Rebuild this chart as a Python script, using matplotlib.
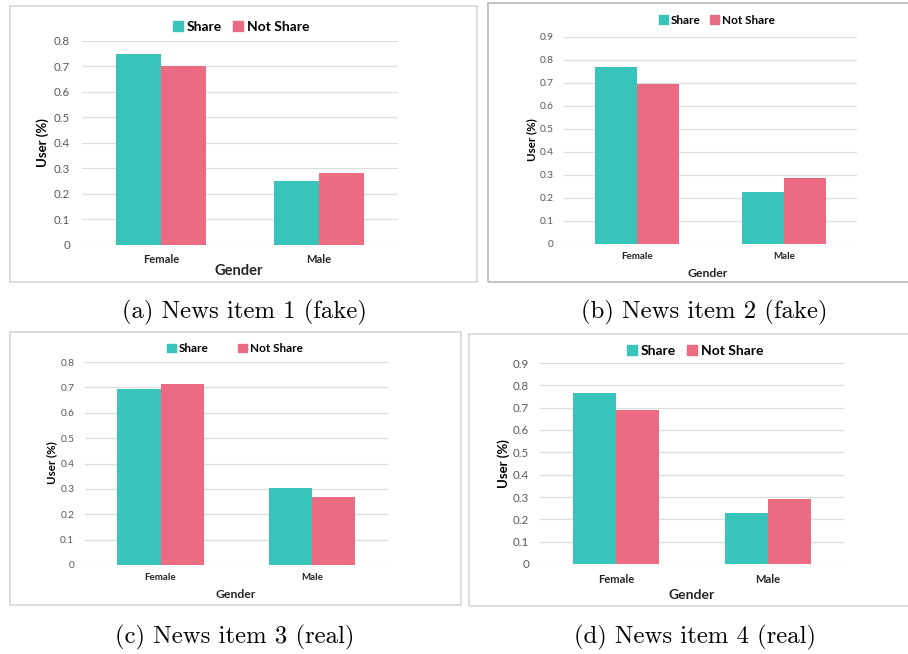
import matplotlib
matplotlib.use("Agg")
import matplotlib.pyplot as plt
from matplotlib.patches import Rectangle, Patch

# ---------------- data ----------------
categories = ["Female", "Male"]
series_names = ["Share", "Not Share"]

share_1 = [0.748, 0.248]
not_share_1 = [0.702, 0.281]
share_2 = [0.769, 0.225]
not_share_2 = [0.694, 0.287]
share_3 = [0.694, 0.302]
not_share_3 = [0.712, 0.269]
share_4 = [0.764, 0.230]
not_share_4 = [0.690, 0.291]

yticks_1 = [0, 0.1, 0.2, 0.3, 0.4, 0.5, 0.6, 0.7, 0.8]
yticks_2 = [0, 0.1, 0.2, 0.3, 0.4, 0.5, 0.6, 0.7, 0.8, 0.9]
yticks_3 = [0, 0.1, 0.2, 0.3, 0.4, 0.5, 0.6, 0.7, 0.8]
yticks_4 = [0, 0.1, 0.2, 0.3, 0.4, 0.5, 0.6, 0.7, 0.8, 0.9]

captions = ["(a) News item 1 (fake)", "(b) News item 2 (fake)",
            "(c) News item 3 (real)", "(d) News item 4 (real)"]
x_label = "Gender"
y_label = "User (%)"

# ---------------- style ----------------
TEAL = "#38C4BA"
PINK = "#EB6B82"
GRID = "#DDDDDD"
TICK = "#595959"
FONT = "Lato"

W, H = 908, 654
fig = plt.figure(figsize=(W / 100, H / 100), dpi=100)


def fx(x):
    return x / W


def fy(y):
    return 1 - y / H


# layout in pixels per panel
panels = [
    dict(share=share_1, not_share=not_share_1, yticks=yticks_1, cap=captions[0],
         box=(10, 6, 477, 282), box_c="#D9D9D9",
         plot=(82, 40.7, 398, 244.7), tick_fs=8.3, tick_pad=8.5, cat_fs=8.0, cat_pad=7,
         leg=(241, 26.7), leg_fs=10, leg_gap=0.8,
         xl=(239, 271), xl_fs=10.5, yl=(43, 143), yl_fs=9.5,
         cap_xy=(244, 312)),
    dict(share=share_2, not_share=not_share_2, yticks=yticks_2, cap=captions[1],
         box=(488, 3, 915, 282), box_c="#BFBFBF",
         plot=(564, 37, 857, 243.7), tick_fs=7.3, tick_pad=7.5, cat_fs=7.0, cat_pad=6,
         leg=(716.7, 20), leg_fs=8.5, leg_gap=0.8,
         xl=(708, 273), xl_fs=8.8, yl=(532, 140), yl_fs=8.3,
         cap_xy=(704, 312)),
    dict(share=share_3, not_share=not_share_3, yticks=yticks_3, cap=captions[2],
         box=(10, 332, 461, 605), box_c="#D9D9D9",
         plot=(84.7, 362, 388, 565), tick_fs=7.3, tick_pad=7.5, cat_fs=7.0, cat_pad=6,
         leg=(235, 348.7), leg_fs=8.5, leg_gap=2.5,
         xl=(236, 595), xl_fs=8.8, yl=(52, 463), yl_fs=8.3,
         cap_xy=(235, 637)),
    dict(share=share_4, not_share=not_share_4, yticks=yticks_4, cap=captions[3],
         box=(469, 334, 915, 606), box_c="#D9D9D9",
         plot=(540, 363, 844, 564), tick_fs=8.3, tick_pad=8, cat_fs=8.0, cat_pad=7,
         leg=(695, 351), leg_fs=10, leg_gap=0.8,
         xl=(692, 595), xl_fs=10, yl=(504, 464), yl_fs=9.5,
         cap_xy=(695, 637)),
]

bw = 0.285
xs = list(range(len(categories)))

for p in panels:
    bx0, by0, bx1, by1 = p["box"]
    fig.add_artist(Rectangle((fx(bx0), fy(by1)), fx(bx1) - fx(bx0), fy(by0) - fy(by1),
                             transform=fig.transFigure, fill=False,
                             edgecolor=p["box_c"], linewidth=1.3, zorder=0))
    px0, py0, px1, py1 = p["plot"]
    ax = fig.add_axes([fx(px0), fy(py1), fx(px1) - fx(px0), fy(py0) - fy(py1)])
    ax.bar([x - bw / 2 for x in xs], p["share"], width=bw, color=TEAL, zorder=3)
    ax.bar([x + bw / 2 for x in xs], p["not_share"], width=bw, color=PINK, zorder=3)
    ax.set_xlim(-0.5, len(categories) - 0.5)
    ax.set_ylim(0, p["yticks"][-1])
    ax.set_yticks(p["yticks"])
    ax.set_yticklabels([f"{v:g}" for v in p["yticks"]], fontsize=p["tick_fs"],
                       color=TICK, family=FONT)
    ax.set_xticks(xs)
    ax.set_xticklabels(categories, fontsize=p["cat_fs"], fontweight="bold",
                       family=FONT, color="#262626")
    ax.tick_params(axis="both", length=0)
    ax.tick_params(axis="y", pad=p["tick_pad"])
    ax.tick_params(axis="x", pad=p["cat_pad"])
    ax.grid(axis="y", color=GRID, linewidth=0.9, zorder=0)
    for s in ax.spines.values():
        s.set_visible(False)
    ax.set_facecolor("none")

    handles = [Patch(color=TEAL, label=series_names[0]),
               Patch(color=PINK, label=series_names[1])]
    fig.legend(handles=handles, loc="center", ncol=2, frameon=False,
               bbox_to_anchor=(fx(p["leg"][0]), fy(p["leg"][1])),
               prop=dict(family=FONT, weight="bold", size=p["leg_fs"]),
               handlelength=0.75, handleheight=0.75, handletextpad=0.25,
               columnspacing=p["leg_gap"], borderaxespad=0, borderpad=0)

    fig.text(fx(p["xl"][0]), fy(p["xl"][1]), x_label, ha="center", va="center",
             fontsize=p["xl_fs"], fontweight="bold", family=FONT, color="#262626")
    fig.text(fx(p["yl"][0]), fy(p["yl"][1]), y_label, ha="center", va="center",
             rotation=90, fontsize=p["yl_fs"], fontweight="bold", family=FONT,
             color="#000000")
    fig.text(fx(p["cap_xy"][0]), fy(p["cap_xy"][1]), p["cap"], ha="center",
             va="center", fontsize=17.8, family="cmr10", color="black")

fig.savefig("out.png", dpi=100)
